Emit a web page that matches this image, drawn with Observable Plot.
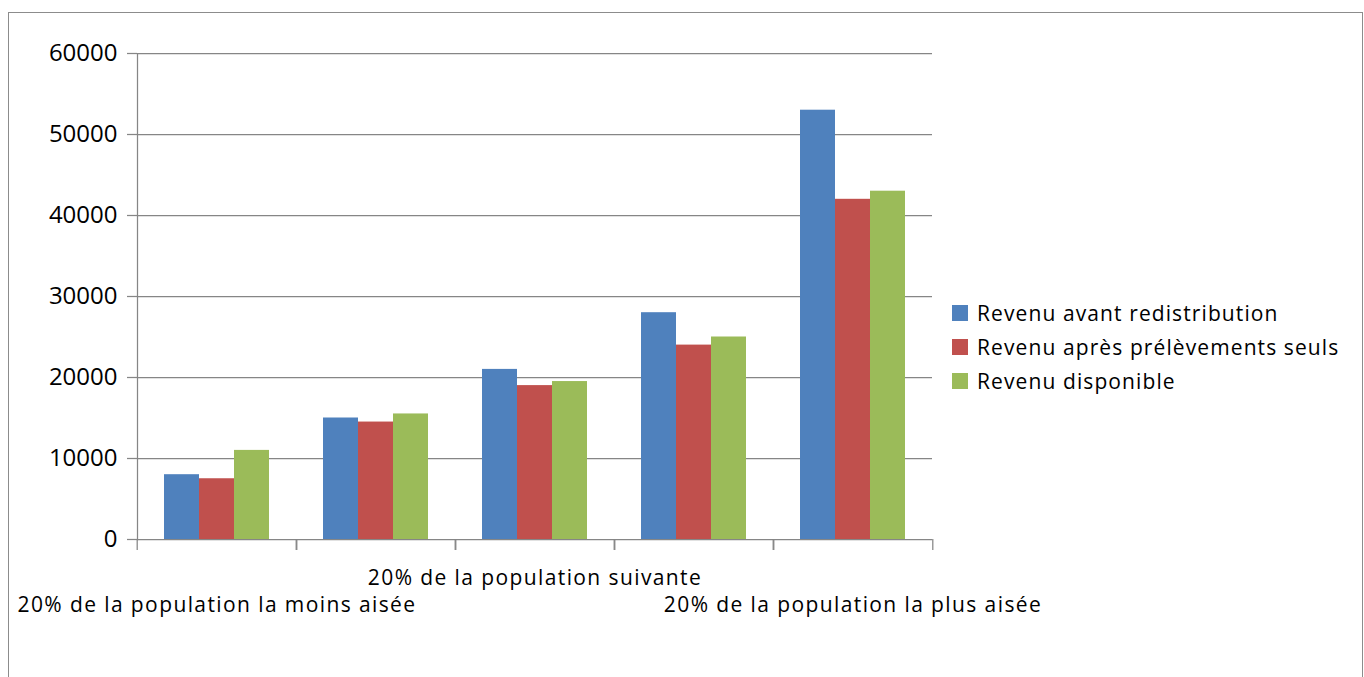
<!DOCTYPE html>
<html><head><meta charset="utf-8">
<script src="https://cdn.jsdelivr.net/npm/d3@7"></script>
<script src="https://cdn.jsdelivr.net/npm/@observablehq/plot@0.6"></script>
<style>
html,body{margin:0;padding:0;background:#fff;}
#wrap{position:relative;width:1364px;height:677px;overflow:hidden;font-family:"Open Sans",sans-serif;}
#border{position:absolute;left:8px;top:12px;width:1355px;height:720px;border:1px solid #8c8c8c;box-sizing:border-box;}
#chart{position:absolute;left:0;top:0;}
#legend{position:absolute;left:952px;top:296px;}
#legend .lg-swatches{font-family:"Open Sans",sans-serif !important;font-size:21px !important;letter-spacing:1.1px;color:#000;margin:0 !important;min-height:0 !important;}
#legend .lg-swatch{height:34px;padding-bottom:0 !important;}
#legend .lg-swatch > svg{margin-right:9px !important;}
#chart g[aria-label="fx-axis tick label"] text{letter-spacing:1.4px;}
</style></head>
<body><div id="wrap"><div id="border"></div><div id="chart"></div><div id="legend"></div></div>
<script>
const categories = [
  "20% de la population la moins aisée",
  "20% de la population modeste",
  "20% de la population suivante",
  "20% de la population aisée",
  "20% de la population la plus aisée"
];
const labelsRow1 = ["20% de la population suivante"];
const labelsRow2 = ["20% de la population la moins aisée", "20% de la population la plus aisée"];
const series = ["Revenu avant redistribution", "Revenu après prélèvements seuls", "Revenu disponible"];
const revenuAvant = [8000, 15000, 21000, 28000, 53000];
const revenuApres = [7500, 14500, 19000, 24000, 42000];
const revenuDispo = [11000, 15500, 19500, 25000, 43000];
const yTicks = [0, 10000, 20000, 30000, 40000, 50000, 60000];
const colors = ["#4F81BD", "#C0504D", "#9BBB59"];

const seriesValues = [revenuAvant, revenuApres, revenuDispo];
const data = categories.flatMap((c, i) => series.map((s, j) => ({cat: c, serie: s, value: seriesValues[j][i]})));

const W = 1364, H = 640, mL = 135, mR = 431, mT = 53, mB = 101;
const facetW = (W - mL - mR) / categories.length;
const grey = "#868686";

const plot = Plot.plot({
  width: W, height: H, marginLeft: mL, marginRight: mR, marginTop: mT, marginBottom: mB,
  style: {fontFamily: "'Open Sans', sans-serif", fontSize: "21px", color: "#000", background: "transparent", overflow: "visible"},
  fx: {domain: categories, paddingInner: 0, paddingOuter: 0, label: null},
  x: {domain: series, paddingInner: 0, paddingOuter: 0.75, axis: null},
  y: {domain: [0, 60000], label: null},
  color: {domain: series, range: colors},
  marks: [
    Plot.gridY(yTicks, {stroke: grey, strokeOpacity: 1, strokeWidth: 1.25}),
    Plot.barY(data, {fx: "cat", x: "serie", y: "value", fill: "serie"}),
    Plot.frame({anchor: "left", facetAnchor: "left", stroke: grey, strokeWidth: 1.25}),
    Plot.axisY(yTicks, {tickSize: 10, tickPadding: 10, fontSize: 24, tickFormat: d => String(d), stroke: grey, strokeWidth: 1.25, fill: "#000", label: null}),
    Plot.axisFx({anchor: "bottom", tickSize: 11, dx: -facetW / 2, tickFormat: () => "", stroke: grey, strokeWidth: 1.25, label: null}),
    Plot.axisFx({anchor: "bottom", tickSize: 11, dx: facetW / 2, tickFormat: () => "", stroke: grey, strokeWidth: 1.25, label: null}),
    Plot.axisFx({anchor: "bottom", tickSize: 0, tickPadding: 31, fontSize: 21, fill: "#000", label: null,
      tickFormat: d => labelsRow1.includes(d) ? d : ""}),
    Plot.axisFx({anchor: "bottom", tickSize: 0, tickPadding: 58, fontSize: 21, fill: "#000", label: null,
      tickFormat: d => labelsRow2.includes(d) ? d : ""})
  ]
});
document.getElementById("chart").appendChild(plot);

const leg = Plot.legend({color: {domain: series, range: colors}, legend: "swatches", columns: 1, swatchSize: 16, className: "lg"});
document.getElementById("legend").appendChild(leg);
</script>
</body></html>
